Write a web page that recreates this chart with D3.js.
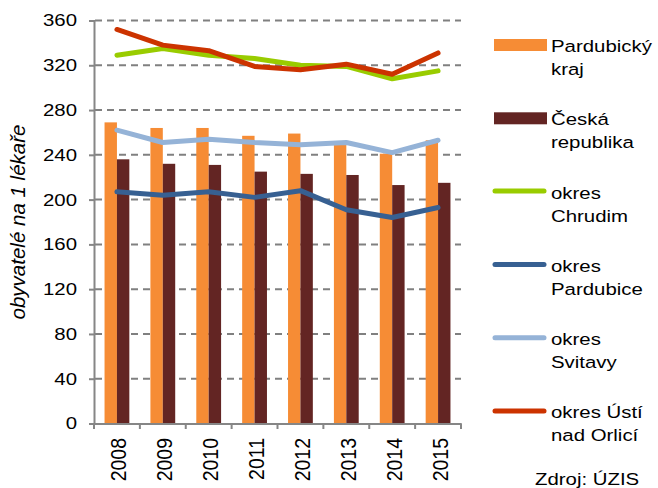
<!DOCTYPE html>
<html><head><meta charset="utf-8">
<script src="https://cdn.jsdelivr.net/npm/d3@7"></script>
<style>
html,body{margin:0;padding:0;background:#fff;}
svg{display:block;font-family:"Liberation Sans",Arial,sans-serif;}
</style></head>
<body><svg id="c" width="658" height="488"></svg>
<script>
const years = ["2008","2009","2010","2011","2012","2013","2014","2015"];
const pardubickyKraj = [269,264,264,257,259,252,241,253];
const ceskaRepublika = [236,232,231,225,223,222,213,215];
const chrudim = [329,335,329,326,320,319,308,315];
const pardubice = [207,204,207,202,208,191,184,193];
const svitavy = [262,251,254,251,249,251,242,253];
const ustiNadOrlici = [352,338,333,319,316,321,312,331];
const yTicks = [0,40,80,120,160,200,240,280,320,360];

const barSeries = [
  {name:["Pardubický","kraj"], values:pardubickyKraj, color:"#F68C35"},
  {name:["Česká","republika"], values:ceskaRepublika, color:"#632523"}
];
const lineSeries = [
  {name:["okres","Chrudim"], values:chrudim, color:"#99CC00"},
  {name:["okres","Pardubice"], values:pardubice, color:"#376092"},
  {name:["okres","Svitavy"], values:svitavy, color:"#95B3D7"},
  {name:["okres Ústí","nad Orlicí"], values:ustiNadOrlici, color:"#CC3300"}
];

const SX = 1.2; // horizontal stretch of the reference text
const svg = d3.select("#c");
const x = d3.scaleBand().domain(years).range([94,461]).padding(0);
const y = d3.scaleLinear().domain([0,360]).range([423.5,20.5]);
const xs = d3.scaleBand().domain([0,1]).range([0,x.bandwidth()]).paddingInner(0).paddingOuter(0.85);

// grid
svg.append("g").selectAll("line").data(yTicks.filter(d=>d>0)).join("line")
  .attr("x1",95).attr("x2",461).attr("y1",d=>y(d)).attr("y2",d=>y(d))
  .attr("stroke","#808080").attr("stroke-width",2).attr("stroke-dasharray","7,5");

// bars
barSeries.forEach((s,si)=>{
  svg.append("g").selectAll("rect").data(s.values).join("rect")
    .attr("x",(d,i)=>x(years[i])+xs(si)).attr("width",xs.bandwidth())
    .attr("y",d=>y(d)).attr("height",d=>y(0)-y(d)).attr("fill",s.color);
});

// lines
const line = d3.line().x((d,i)=>x(years[i])+x.bandwidth()/2).y(d=>y(d));
lineSeries.forEach(s=>{
  svg.append("path").datum(s.values).attr("d",line).attr("fill","none")
    .attr("stroke",s.color).attr("stroke-width",5).attr("stroke-linecap","round").attr("stroke-linejoin","round");
});

// axes
const yAxis = d3.axisLeft(y).tickValues(yTicks).tickSize(5).tickPadding(4);
const gy = svg.append("g").attr("transform","translate(94,0)").call(yAxis);
gy.select(".domain").attr("stroke","#868686").attr("stroke-width",2);
gy.selectAll(".tick line").attr("stroke","#868686").attr("stroke-width",2);
gy.selectAll(".tick text").attr("font-size",17).attr("fill","#000")
  .attr("font-family","Liberation Sans, Arial, sans-serif")
  .attr("x",-17/SX).attr("transform",`scale(${SX},1)`);

const xAxis = d3.axisBottom(x).tickSize(0).tickFormat(d=>d);
const gx = svg.append("g").attr("transform","translate(0,423.5)").call(xAxis);
gx.select(".domain").attr("stroke","#868686").attr("stroke-width",2);
gx.selectAll(".tick text").attr("font-size",19.5).attr("fill","#000")
  .attr("font-family","Liberation Sans, Arial, sans-serif")
  .attr("transform","rotate(-90) scale(1,1.12)").attr("text-anchor","end")
  .attr("x",-14.5).attr("y",1.5).attr("dy","0.36em");
// boundary ticks
svg.append("g").selectAll("line").data(d3.range(years.length+1)).join("line")
  .attr("x1",i=>94+i*x.bandwidth()).attr("x2",i=>94+i*x.bandwidth())
  .attr("y1",423.5).attr("y2",429).attr("stroke","#868686").attr("stroke-width",2);

// y title
svg.append("text").attr("transform","translate(25,222) rotate(-90)")
  .attr("text-anchor","middle").attr("font-style","italic").attr("font-size",20.5)
  .text("obyvatelé na 1 lékaře");

// legend
const leg = svg.append("g");
const all = barSeries.map(s=>({...s,type:"bar"})).concat(lineSeries.map(s=>({...s,type:"line"})));
all.forEach((s,i)=>{
  const base = 52 + i*73.3;
  if(s.type==="bar"){
    leg.append("rect").attr("x",494).attr("y",base-13).attr("width",53).attr("height",12).attr("fill",s.color);
  } else {
    leg.append("line").attr("x1",495).attr("x2",544).attr("y1",base-7.5).attr("y2",base-7.5)
      .attr("stroke",s.color).attr("stroke-width",5).attr("stroke-linecap","round");
  }
  s.name.forEach((t,j)=>{
    leg.append("text").attr("x",551/SX).attr("y",base+j*23).attr("font-size",17)
      .attr("transform",`scale(${SX},1)`).text(t);
  });
});
svg.append("text").attr("x",535/SX).attr("y",485).attr("font-size",17)
  .attr("transform",`scale(${SX},1)`).text("Zdroj: ÚZIS");
</script></body></html>
